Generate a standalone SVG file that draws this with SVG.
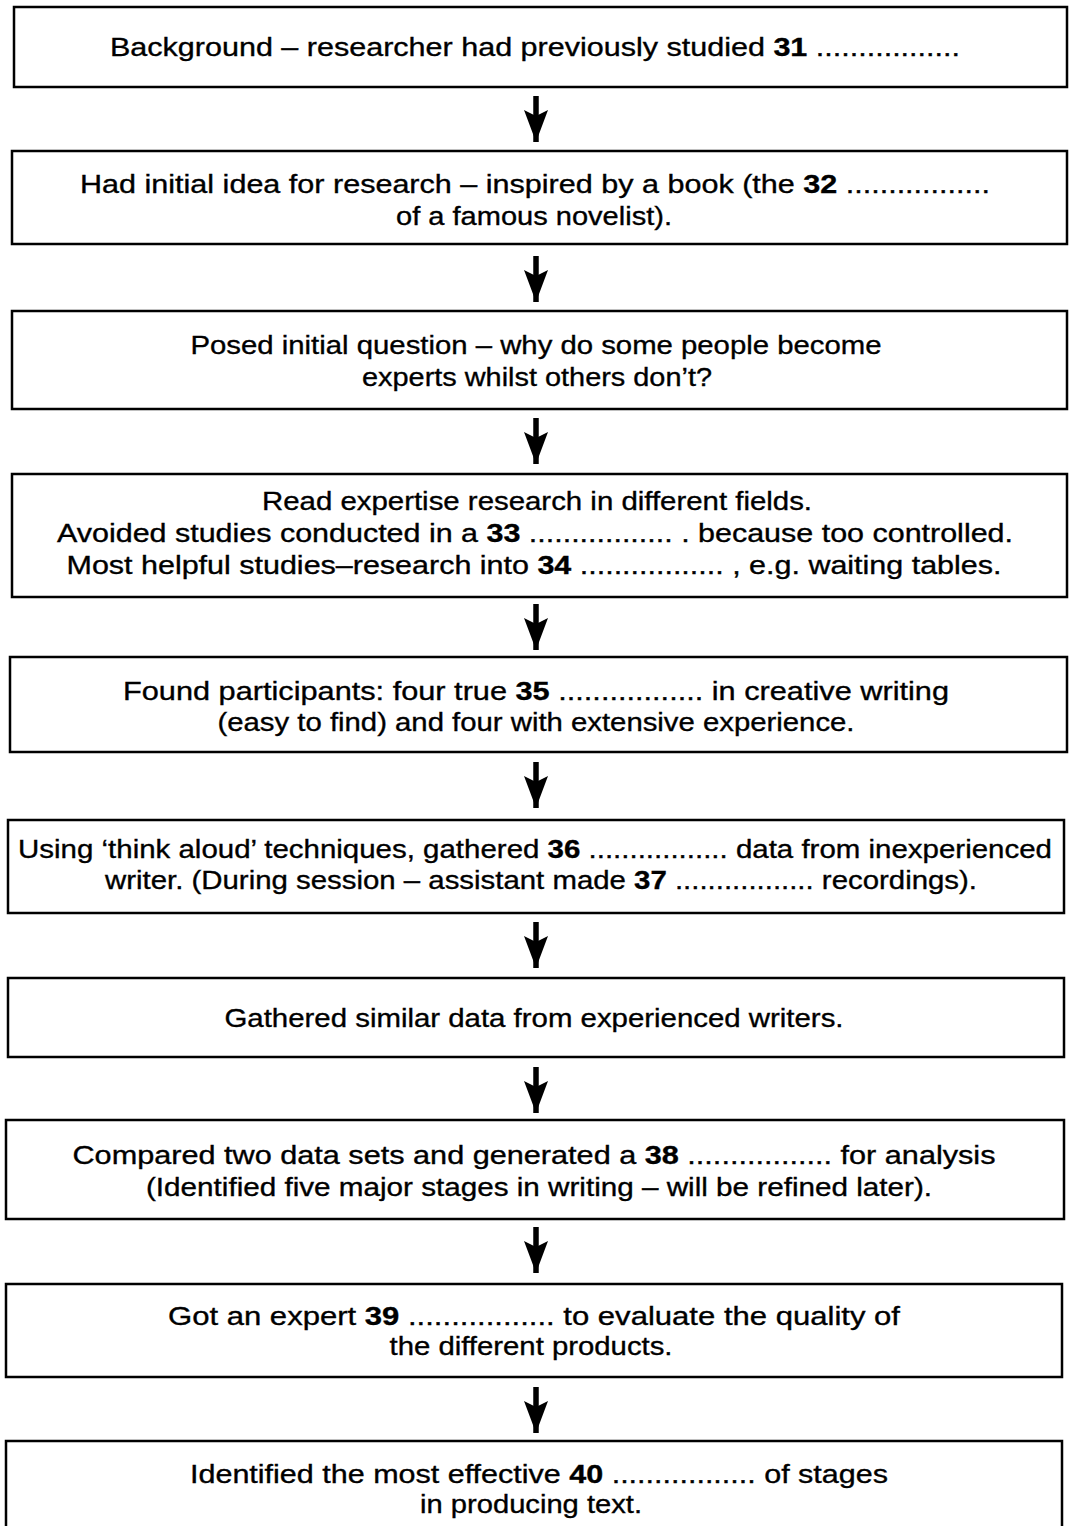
<svg xmlns="http://www.w3.org/2000/svg" width="1074" height="1526" viewBox="0 0 1074 1526">
<defs>
<style>
.box{fill:#fff;stroke:#000;stroke-width:2.5}
.t{font-family:"Liberation Sans",Arial,Helvetica,sans-serif;font-size:26.5px;fill:#000;stroke:#000;stroke-width:0.35;text-anchor:middle}
.b{font-weight:bold}
.conn{stroke:#000;stroke-width:5.5;fill:none}
</style>
<marker id="ah" viewBox="0 -13 33 26" markerUnits="userSpaceOnUse" markerWidth="33" markerHeight="26" refX="32" refY="0" orient="auto">
<path d="M0,-12 L6,0 L0,12 L32,0 z" fill="#000"/>
</marker>
</defs>
<rect width="1074" height="1526" fill="#fff"/>
<g id="connectors">
<line class="conn" x1="536" y1="96" x2="536" y2="142" marker-end="url(#ah)"/>
<line class="conn" x1="536" y1="256" x2="536" y2="302" marker-end="url(#ah)"/>
<line class="conn" x1="536" y1="418" x2="536" y2="464" marker-end="url(#ah)"/>
<line class="conn" x1="536" y1="604" x2="536" y2="650" marker-end="url(#ah)"/>
<line class="conn" x1="536" y1="762" x2="536" y2="808" marker-end="url(#ah)"/>
<line class="conn" x1="536" y1="922" x2="536" y2="968" marker-end="url(#ah)"/>
<line class="conn" x1="536" y1="1067" x2="536" y2="1113" marker-end="url(#ah)"/>
<line class="conn" x1="536" y1="1227" x2="536" y2="1273" marker-end="url(#ah)"/>
<line class="conn" x1="536" y1="1387" x2="536" y2="1433" marker-end="url(#ah)"/>
</g>
<g id="n1">
<rect class="box" x="14" y="7" width="1053" height="80"/>
<text class="t" x="535" y="56" textLength="850" lengthAdjust="spacingAndGlyphs">Background – researcher had previously studied <tspan class="b">31</tspan> .................</text>
</g>
<g id="n2">
<rect class="box" x="12" y="151" width="1055" height="93"/>
<text class="t" x="535" y="193" textLength="910" lengthAdjust="spacingAndGlyphs">Had initial idea for research – inspired by a book (the <tspan class="b">32</tspan> .................</text>
<text class="t" x="534" y="225" textLength="276" lengthAdjust="spacingAndGlyphs">of a famous novelist).</text>
</g>
<g id="n3">
<rect class="box" x="12" y="311" width="1055" height="98"/>
<text class="t" x="536" y="354" textLength="691" lengthAdjust="spacingAndGlyphs">Posed initial question – why do some people become</text>
<text class="t" x="537" y="386" textLength="350" lengthAdjust="spacingAndGlyphs">experts whilst others don’t?</text>
</g>
<g id="n4">
<rect class="box" x="12" y="474" width="1055" height="123"/>
<text class="t" x="537" y="510" textLength="550" lengthAdjust="spacingAndGlyphs">Read expertise research in different fields.</text>
<text class="t" x="535" y="542" textLength="956" lengthAdjust="spacingAndGlyphs">Avoided studies conducted in a <tspan class="b">33</tspan> ................. . because too controlled.</text>
<text class="t" x="534" y="574" textLength="935" lengthAdjust="spacingAndGlyphs">Most helpful studies–research into <tspan class="b">34</tspan> ................. , e.g. waiting tables.</text>
</g>
<g id="n5">
<rect class="box" x="10" y="657" width="1057" height="95"/>
<text class="t" x="536" y="700" textLength="826" lengthAdjust="spacingAndGlyphs">Found participants: four true <tspan class="b">35</tspan> ................. in creative writing</text>
<text class="t" x="536" y="731" textLength="637" lengthAdjust="spacingAndGlyphs">(easy to find) and four with extensive experience.</text>
</g>
<g id="n6">
<rect class="box" x="8" y="820" width="1056" height="93"/>
<text class="t" x="535" y="858" textLength="1034" lengthAdjust="spacingAndGlyphs">Using ‘think aloud’ techniques, gathered <tspan class="b">36</tspan> ................. data from inexperienced</text>
<text class="t" x="541" y="889" textLength="872" lengthAdjust="spacingAndGlyphs">writer. (During session – assistant made <tspan class="b">37</tspan> .................  recordings).</text>
</g>
<g id="n7">
<rect class="box" x="8" y="978" width="1056" height="79"/>
<text class="t" x="534" y="1027" textLength="619" lengthAdjust="spacingAndGlyphs">Gathered similar data from experienced writers.</text>
</g>
<g id="n8">
<rect class="box" x="6" y="1120" width="1058" height="99"/>
<text class="t" x="534" y="1164" textLength="923" lengthAdjust="spacingAndGlyphs">Compared two data sets and generated a <tspan class="b">38</tspan> ................. for analysis</text>
<text class="t" x="539" y="1196" textLength="786" lengthAdjust="spacingAndGlyphs">(Identified five major stages in writing – will be refined later).</text>
</g>
<g id="n9">
<rect class="box" x="6" y="1284" width="1056" height="93"/>
<text class="t" x="534" y="1325" textLength="732" lengthAdjust="spacingAndGlyphs">Got an expert <tspan class="b">39</tspan> ................. to evaluate the quality of</text>
<text class="t" x="531" y="1355" textLength="283" lengthAdjust="spacingAndGlyphs">the different products.</text>
</g>
<g id="n10">
<rect class="box" x="6" y="1441" width="1056" height="100"/>
<text class="t" x="539" y="1483" textLength="698" lengthAdjust="spacingAndGlyphs">Identified the most effective <tspan class="b">40</tspan> ................. of stages</text>
<text class="t" x="531" y="1513" textLength="222" lengthAdjust="spacingAndGlyphs">in producing text.</text>
</g>
</svg>
